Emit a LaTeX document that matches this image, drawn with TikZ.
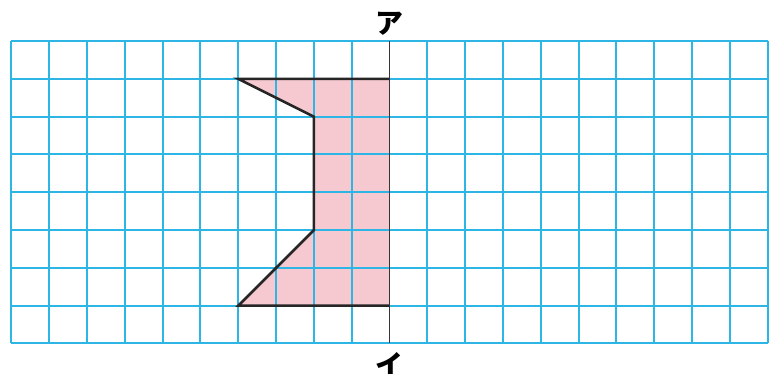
\documentclass[tikz,border=0pt]{standalone}
\usepackage{fontspec}
\usepackage{tikz}
\usetikzlibrary{positioning}
\newfontfamily\jpfont{Noto Sans CJK JP}
\definecolor{GridCyan}{HTML}{2CB5E5}
\definecolor{ShapePink}{HTML}{F6C9D1}
\definecolor{AxisDark}{HTML}{3A3436}

\begin{document}
\begin{tikzpicture}[
  gridline/.style={GridCyan,line width=1.5pt},
  outline/.style={draw=black!85,line width=1.9pt,line join=miter},
  axisline/.style={AxisDark,line width=1.1pt},
  mark label/.style={font=\jpfont\bfseries\fontsize{21}{21}\selectfont,inner sep=0pt}
]
  \useasboundingbox (-0.304,-0.807) rectangle (20.225,9.087);

  % pink shape under the grid
  \fill[ShapePink] (6,7) -- (10,7) -- (10,1) -- (6,1) -- (7,2) -- (8,3) -- (8,6) -- cycle;

  % grid
  \foreach \x in {0,...,20} \draw[gridline] (\x,0) -- (\x,8);
  \foreach \y in {0,...,8} \draw[gridline] (0,\y) -- (20,\y);

  % outline, open at the axis
  \draw[outline] (10,7) -- (6,7) -- (8,6) -- (8,3) -- (7,2) -- (6,1) -- (10,1);

  % axis
  \coordinate (top) at (10,8);
  \coordinate (bottom) at (10,0);
  \node[mark label] (a) at (10,8.45) {ア};
  \node[mark label] (i) at (10,-0.57) {イ};
  \draw[axisline] (top) -- (bottom);
\end{tikzpicture}
\end{document}
